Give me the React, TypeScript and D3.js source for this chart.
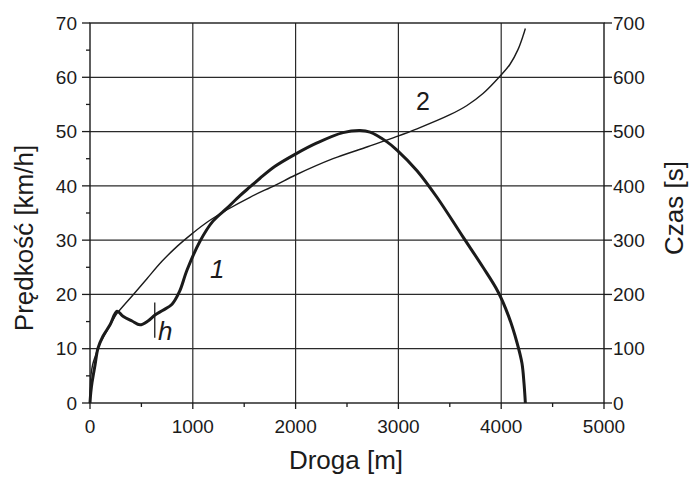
import React from "react";
import * as d3 from "d3";

// Speed profile along the run: [distance m, speed km/h]
const speedCurve: [number, number][] = [
  [0, 0], [8, 2], [20, 3.8], [49, 7.0], [78, 10.1], [126, 12.3], [195, 14.4],
  [263, 16.9], [321, 16.0], [409, 15.1], [486, 14.4], [564, 15.1], [632, 16.2],
  [710, 17.1], [798, 18.2], [870, 20.5], [944, 24.5], [1070, 29.8], [1196, 33.5],
  [1333, 35.9], [1459, 38.2], [1556, 39.8], [1654, 41.4], [1800, 43.6], [1994, 45.8],
  [2208, 47.9], [2461, 49.8], [2626, 50.2], [2724, 49.9], [2889, 48.1], [2986, 46.6],
  [3181, 42.8], [3375, 37.9], [3628, 30.6], [3823, 25.0], [3969, 20.5], [4070, 16.1],
  [4154, 11.1], [4202, 7.3], [4222, 3.6], [4235, 0],
];

// Elapsed time along the run: [distance m, time s]
const timeCurve: [number, number][] = [
  [0, 0], [3, 30], [10, 52], [25, 70], [49, 85], [97, 110], [165, 133], [224, 153],
  [263, 165], [418, 199], [554, 229], [700, 261], [850, 289], [1000, 313],
  [1138, 333], [1333, 356], [1556, 379], [1800, 401], [2000, 420], [2364, 450],
  [2700, 472], [2986, 491], [3181, 505], [3502, 531], [3667, 548], [3823, 570],
  [3979, 600], [4086, 624], [4163, 651], [4212, 676], [4235, 690],
];

const xTicks = [0, 1000, 2000, 3000, 4000, 5000];
const xMinorTicks = [500, 1500, 2500, 3500, 4500];
const speedTicks = [0, 10, 20, 30, 40, 50, 60, 70];
const speedMinorTicks = [5, 15, 25, 35, 45, 55, 65];
const timeTicks = [0, 100, 200, 300, 400, 500, 600, 700];

// Marker "h" on the speed curve
const hMarker = { x: 630, y0: 12, y1: 18.5 };

const W = 689;
const H = 477;
const FONT = "'Liberation Sans', Arial, Helvetica, sans-serif";
const INK = "#1b1b1b";

export default function App() {
  const x = d3.scaleLinear().domain([0, 5000]).range([90, 604]);
  const yS = d3.scaleLinear().domain([0, 70]).range([403, 23]);
  const yT = d3.scaleLinear().domain([0, 700]).range([403, 23]);

  const speedLine = d3
    .line<[number, number]>()
    .x((d) => x(d[0]))
    .y((d) => yS(d[1]))
    .curve(d3.curveCatmullRom.alpha(0.5));
  const timeLine = d3
    .line<[number, number]>()
    .x((d) => x(d[0]))
    .y((d) => yT(d[1]))
    .curve(d3.curveCatmullRom.alpha(0.5));

  const [x0, x1] = x.range();
  const [yb, yt] = yS.range();

  return (
    <svg
      width={W}
      height={H}
      style={{ position: "absolute", left: 0, top: 0, background: "#fff" }}
      fontFamily={FONT}
    >
      <rect width={W} height={H} fill="#fff" />
      {/* grid */}
      <g stroke="#2a2a2a" strokeWidth={1.2}>
        {xTicks.slice(1, -1).map((t) => (
          <line key={"gx" + t} x1={x(t)} x2={x(t)} y1={yb} y2={yt} />
        ))}
        {speedTicks.slice(1, -1).map((t) => (
          <line key={"gy" + t} x1={x0} x2={x1} y1={yS(t)} y2={yS(t)} />
        ))}
      </g>
      {/* frame */}
      <rect x={x0} y={yt} width={x1 - x0} height={yb - yt} fill="none" stroke={INK} strokeWidth={1.4} />

      {/* ticks */}
      <g stroke={INK} strokeWidth={1.3}>
        {speedTicks.map((t) => (
          <line key={"lt" + t} x1={x0 - 8} x2={x0} y1={yS(t)} y2={yS(t)} />
        ))}
        {speedMinorTicks.map((t) => (
          <line key={"lm" + t} x1={x0 - 4} x2={x0} y1={yS(t)} y2={yS(t)} />
        ))}
        {xTicks.map((t) => (
          <line key={"bt" + t} x1={x(t)} x2={x(t)} y1={yb} y2={yb + 6} />
        ))}
        {xMinorTicks.map((t) => (
          <line key={"bm" + t} x1={x(t)} x2={x(t)} y1={yb} y2={yb + 4} />
        ))}
        {timeTicks.map((t) => (
          <line key={"rt" + t} x1={x1} x2={x1 + 8} y1={yT(t)} y2={yT(t)} />
        ))}
      </g>

      {/* tick labels */}
      <g fill={INK} fontSize={19}>
        {speedTicks.map((t) => (
          <text key={"ll" + t} x={77} y={yS(t)} dy="0.35em" textAnchor="end">
            {t}
          </text>
        ))}
        {xTicks.map((t) => (
          <text key={"bl" + t} x={x(t)} y={433} textAnchor="middle">
            {t}
          </text>
        ))}
        {timeTicks.map((t) => (
          <text key={"rl" + t} x={613} y={yT(t)} dy="0.35em" textAnchor="start">
            {t}
          </text>
        ))}
      </g>

      {/* axis titles */}
      <g fill={INK} fontSize={26}>
        <text x={346} y={469} textAnchor="middle">
          Droga [m]
        </text>
        <text transform="translate(33,238) rotate(-90)" textAnchor="middle">
          Prędkość [km/h]
        </text>
        <text transform="translate(683,208) rotate(-90)" textAnchor="middle">
          Czas [s]
        </text>
      </g>

      {/* curves */}
      <path d={timeLine(timeCurve) ?? ""} fill="none" stroke={INK} strokeWidth={1.4} />
      <path d={speedLine(speedCurve) ?? ""} fill="none" stroke={INK} strokeWidth={3} strokeLinejoin="round" />

      {/* marker h */}
      <line
        x1={x(hMarker.x)}
        x2={x(hMarker.x)}
        y1={yS(hMarker.y0)}
        y2={yS(hMarker.y1)}
        stroke={INK}
        strokeWidth={1.3}
      />
      <text x={158} y={340} fontSize={26} fontStyle="italic" fill={INK}>
        h
      </text>

      {/* curve labels */}
      <text x={210} y={278} fontSize={26} fontStyle="italic" fill={INK}>
        1
      </text>
      <text x={416} y={110} fontSize={25} fill={INK}>
        2
      </text>
    </svg>
  );
}
